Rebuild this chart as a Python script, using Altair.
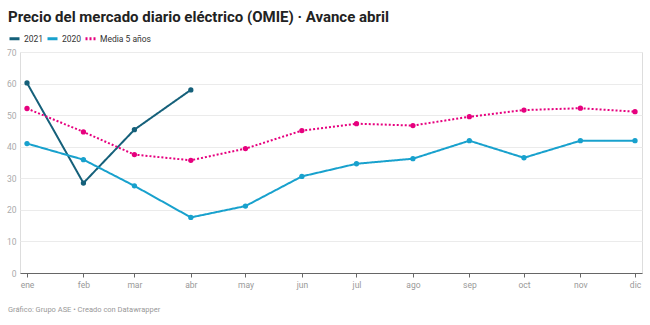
import altair as alt
import pandas as pd

meses = ["ene", "feb", "mar", "abr", "may", "jun", "jul", "ago", "sep", "oct", "nov", "dic"]
fechas = [f"2021-{m:02d}-01" for m in range(1, 13)]

serie_2021 = [60.2, 28.5, 45.4, 58.0]
serie_2020 = [41.0, 35.9, 27.6, 17.6, 21.2, 30.6, 34.6, 36.2, 41.9, 36.5, 41.9, 41.9]
media_5 = [52.1, 44.7, 37.5, 35.7, 39.4, 45.1, 47.3, 46.7, 49.5, 51.6, 52.2, 51.1]

series = ["2021", "2020", "Media 5 años"]
colores = ["#15607a", "#18a1cd", "#e6007e"]

rows = []
for nombre, vals in zip(series, [serie_2021, serie_2020, media_5]):
    for f, v in zip(fechas, vals):
        rows.append({"fecha": f, "valor": v, "serie": nombre})
df = pd.DataFrame(rows)

W, H = 622, 221
FONT = "Roboto"

color = alt.Color(
    "serie:N",
    scale=alt.Scale(domain=series, range=colores),
    legend=alt.Legend(
        title=None, orient="none", legendX=-12, legendY=-20, direction="horizontal",
        symbolType="stroke", symbolSize=100, symbolStrokeWidth=3,
        labelFont=FONT, labelFontSize=8.5, labelColor="#333333",
        columnPadding=-3, symbolOffset=0, labelOffset=3,
    ),
)
dash = alt.StrokeDash(
    "serie:N",
    scale=alt.Scale(domain=series, range=[[1, 0], [1, 0], [2, 2]]),
    legend=None,
)

x = alt.X(
    "fecha:T",
    scale=alt.Scale(type="utc", domain=[{"year": 2021, "month": 1, "date": 1, "utc": True},
                                        {"year": 2021, "month": 12, "date": 1, "utc": True}],
                    padding=7),
    axis=alt.Axis(
        title=None,
        values=[{"year": 2021, "month": m, "date": 1, "utc": True} for m in range(1, 13)],
        labelExpr="['ene','feb','mar','abr','may','jun','jul','ago','sep','oct','nov','dic'][utcmonth(datum.value)]",
        grid=False, domain=True, domainColor="#666666", domainWidth=1,
        ticks=True, tickColor="#666666", tickSize=4,
        labelFont=FONT, labelFontSize=8.5, labelColor="#999999", labelPadding=3,
        labelFlush=False,
    ),
)
y = alt.Y(
    "valor:Q",
    scale=alt.Scale(domain=[0, 70]),
    axis=alt.Axis(
        title=None, values=[0, 10, 20, 30, 40, 50, 60, 70], domain=False, ticks=False,
        grid=True, gridColor="#ebebeb", gridWidth=1,
        labelFont=FONT, labelFontSize=8.5, labelColor="#aaaaaa", labelPadding=4,
    ),
)

base = alt.Chart(df)
lineas = base.mark_line(strokeWidth=2).encode(
    x=x, y=y, color=color, strokeDash=dash,
    detail="serie:N",
)
puntos = base.mark_circle(size=28, opacity=1).encode(
    x=x, y=y, color=alt.Color("serie:N", scale=alt.Scale(domain=series, range=colores), legend=None),
)

pie = alt.Chart(pd.DataFrame({"t": ["Gráfico: Grupo ASE • Creado con Datawrapper"]})).mark_text(
    align="left", baseline="alphabetic", font=FONT, fontSize=7.5, color="#999999"
).encode(text="t:N", x=alt.value(-12), y=alt.value(260))

chart = alt.layer(lineas, puntos, pie).properties(
    width=W, height=H,
    autosize=alt.AutoSizeParams(type="none"),
    padding={"left": 20, "top": 52, "right": 8, "bottom": 52},
    title=alt.Title(
        "Precio del mercado diario eléctrico (OMIE) · Avance abril",
        anchor="start", frame="group", dx=-12, offset=24, dy=17,
        font=FONT, fontSize=15, fontWeight="bold", color="#222222",
    ),
).configure_view(stroke=None).configure(background="white")

chart.save("out.html", embed_options={"renderer": "svg", "actions": False})
